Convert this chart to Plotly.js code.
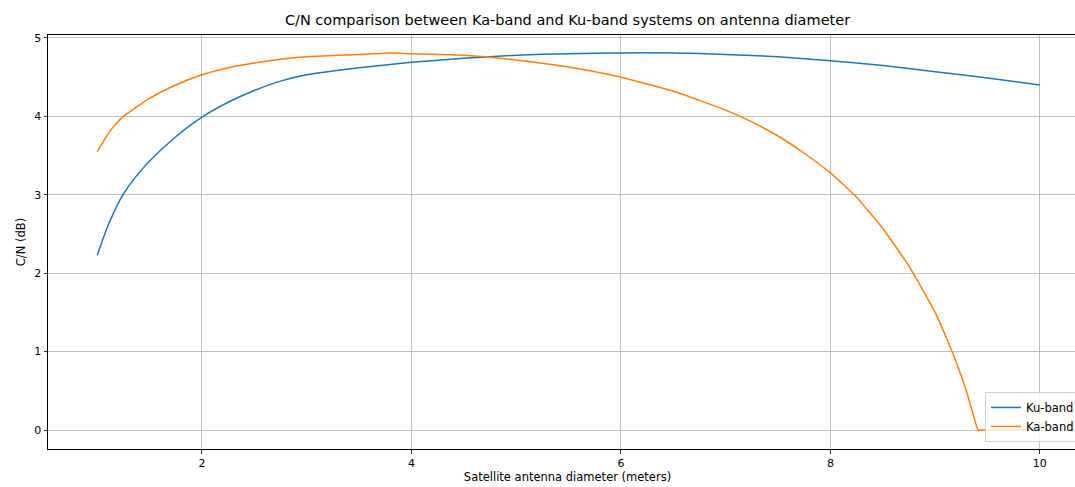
<!DOCTYPE html>
<html>
<head>
<meta charset="utf-8">
<script src="https://cdn.plot.ly/plotly-3.0.1.min.js"></script>
<style>
html,body{margin:0;padding:0;overflow:hidden;background:#fff;}
#chart{width:1090px;height:487px;}
</style>
</head>
<body>
<div id="chart"></div>
<script>
const kuDiameter = [1.0, 1.05, 1.1, 1.15, 1.2, 1.25, 1.35, 1.5, 1.75, 2.0, 2.25, 2.5, 2.75, 3.0, 3.5, 4.0, 4.5, 5.0, 5.5, 6.0, 6.5, 7.0, 7.5, 8.0, 8.5, 9.0, 9.5, 10.0];
const kuCN = [2.23, 2.42, 2.60, 2.75, 2.89, 3.01, 3.20, 3.43, 3.74, 3.99, 4.18, 4.33, 4.45, 4.53, 4.62, 4.69, 4.74, 4.78, 4.80, 4.81, 4.81, 4.79, 4.76, 4.71, 4.65, 4.57, 4.49, 4.40];

const kaDiameter = [1.0, 1.05, 1.1, 1.15, 1.25, 1.5, 1.75, 2.0, 2.25, 2.5, 2.75, 3.0, 3.5, 3.8, 4.0, 4.5, 5.0, 5.5, 6.0, 6.5, 7.0, 7.25, 7.5, 7.75, 8.0, 8.25, 8.5, 8.75, 9.0, 9.1, 9.2, 9.3, 9.41, 9.42, 9.7, 10.0];
const kaCN = [3.55, 3.66, 3.77, 3.86, 4.00, 4.23, 4.40, 4.53, 4.62, 4.68, 4.73, 4.76, 4.79, 4.81, 4.80, 4.78, 4.72, 4.63, 4.50, 4.32, 4.08, 3.93, 3.75, 3.53, 3.28, 2.97, 2.57, 2.09, 1.50, 1.20, 0.87, 0.49, 0.0, 0.0, 0.0, 0.0];

const xTicks = [2, 4, 6, 8, 10];
const yTicks = [0, 1, 2, 3, 4, 5];

const font = "DejaVu Sans, sans-serif";

const traces = [
  {x: kuDiameter, y: kuCN, type: 'scatter', mode: 'lines', name: 'Ku-band',
   line: {color: '#1f77b4', width: 1.5, shape: 'spline', smoothing: 0.6}},
  {x: kaDiameter, y: kaCN, type: 'scatter', mode: 'lines', name: 'Ka-band',
   line: {color: '#ff7f0e', width: 1.5, shape: 'spline', smoothing: 0.5}}
];

const axisCommon = {
  showline: true, mirror: true, linecolor: '#000', linewidth: 1,
  ticks: 'outside', ticklen: 3.5, tickwidth: 0.8, tickcolor: '#000',
  showgrid: true, gridcolor: '#b0b0b0', gridwidth: 0.8,
  zeroline: false, tickfont: {family: font, size: 11, color: '#000'}
};

const layout = {
  width: 1090, height: 487,
  margin: {l: 48, r: 3, t: 35, b: 38},
  paper_bgcolor: '#fff', plot_bgcolor: '#fff',
  font: {family: font, color: '#000'},
  title: {text: 'C/N comparison between Ka-band and Ku-band systems on antenna diameter',
          font: {family: font, size: 14.5, color: '#000'},
          x: 567.5/1090, xanchor: 'center', y: 1 - 20/487, yanchor: 'middle'},
  xaxis: Object.assign({}, axisCommon, {
    range: [0.53, 10.45], tickvals: xTicks, ticktext: xTicks.map(String),
    title: {text: 'Satellite antenna diameter (meters)', font: {family: font, size: 11.5, color: '#000'}, standoff: 4}
  }),
  yaxis: Object.assign({}, axisCommon, {
    range: [-0.242, 5.038], tickvals: yTicks, ticktext: yTicks.map(String),
    title: {text: 'C/N (dB)', font: {family: font, size: 11.5, color: '#000'}, standoff: 6}
  }),
  showlegend: true,
  legend: {x: (985-48)/1039, xanchor: 'left', y: 0.017, yanchor: 'bottom',
           bgcolor: 'rgba(255,255,255,0.8)', bordercolor: '#d0d0d0', borderwidth: 1,
           font: {family: font, size: 11.5, color: '#000'}, tracegroupgap: 0}
};

Plotly.newPlot('chart', traces, layout, {displayModeBar: false, staticPlot: true});
</script>
</body>
</html>
